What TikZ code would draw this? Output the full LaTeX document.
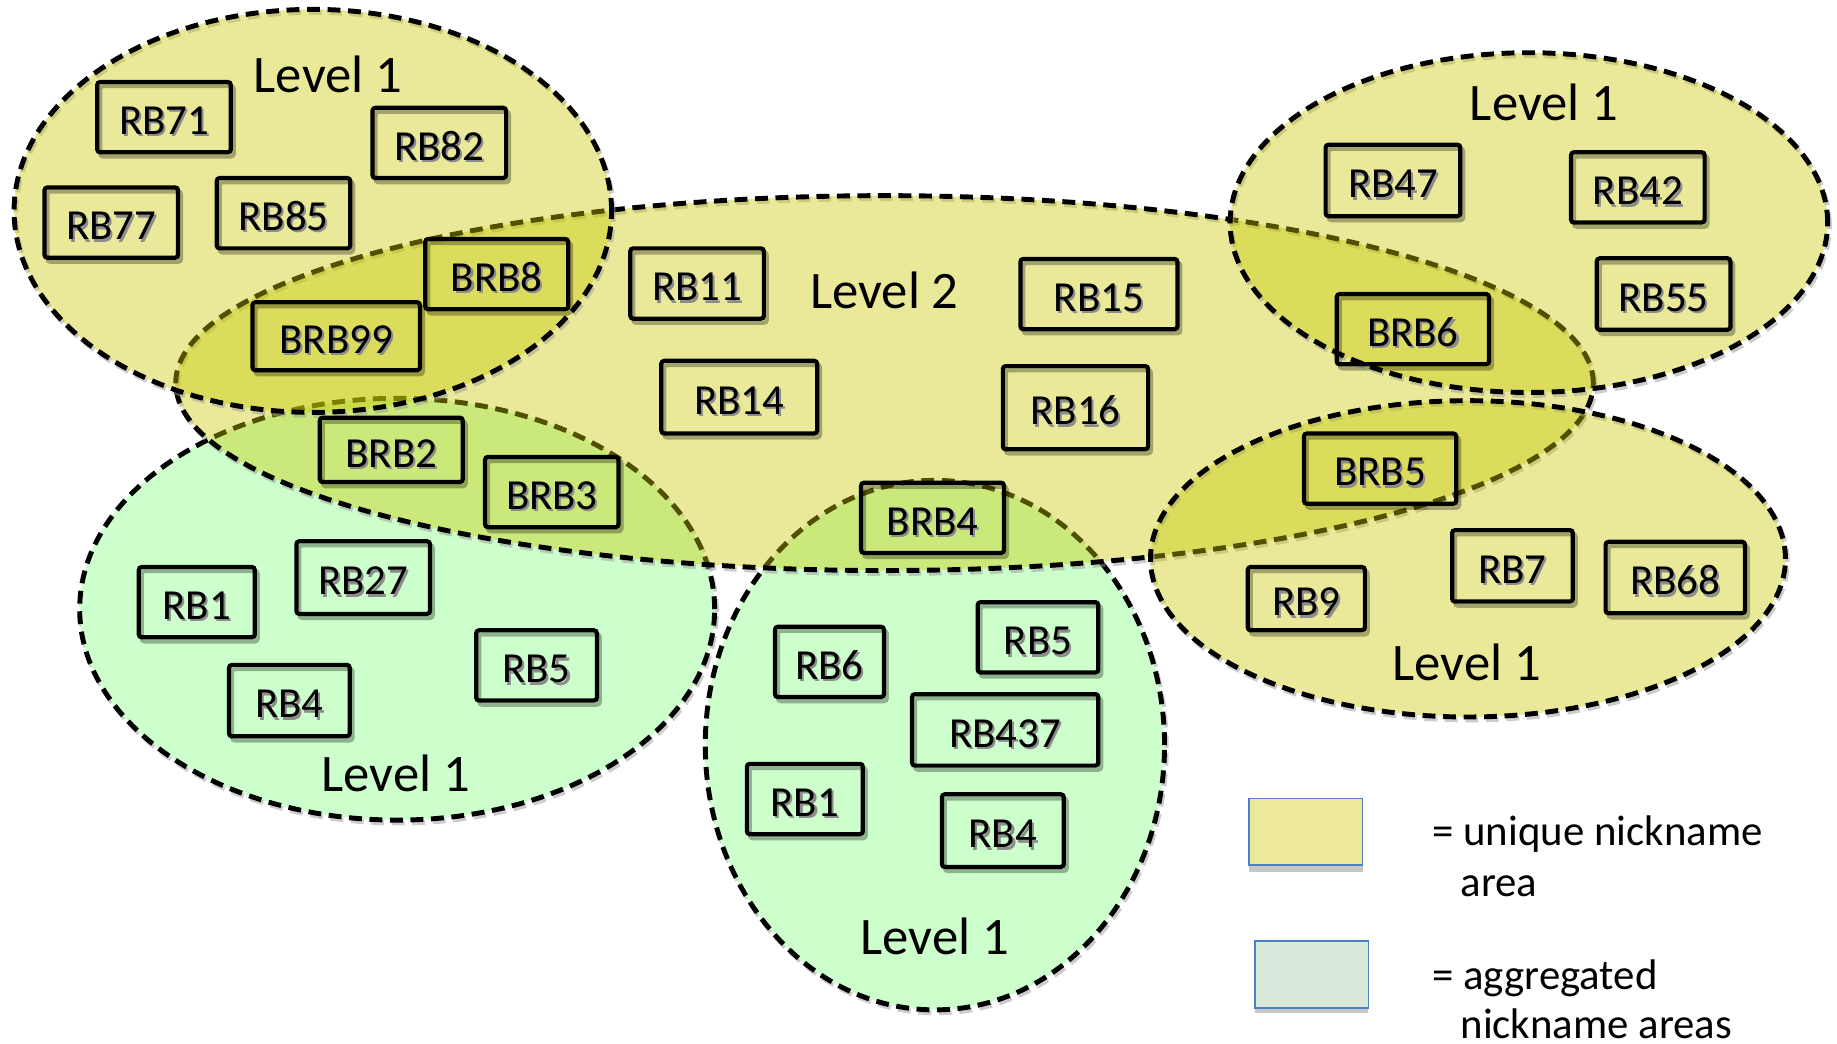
\documentclass[tikz,border=0pt]{standalone}
\usepackage{fontspec}
\setmainfont{Carlito}
\definecolor{areafill}{RGB}{200,200,0}
\definecolor{aggfill}{RGB}{204,255,204}
\definecolor{legblue}{RGB}{79,129,189}
\definecolor{legyellow}{RGB}{236,234,154}
\definecolor{leggreen}{RGB}{218,232,218}
% text with a soft offset shadow
\newcommand\shtext[1]{\makebox[0pt][l]{\kern0.1ex\raisebox{-0.12ex}{\color{black!45}#1}}#1}
\tikzset{
  zone/.style={draw=black, line width=0.42mm, dash pattern=on 1.1mm off 0.65mm,
    preaction={draw=black!40, opacity=0.5, line width=0.42mm, dash pattern=on 1.1mm off 0.65mm,
      transform canvas={shift={(0.15mm,-0.25mm)}}}},
  unique/.style={zone, fill=areafill, fill opacity=0.4},
  aggregated/.style={zone, fill=aggfill},
  rb/.style={draw=black, line width=0.36mm, inner sep=0pt, rounded corners=0.25mm,
    text height=2.95mm, text depth=0pt,
    font=\fontsize{10.4}{12}\selectfont,
    preaction={draw=black, opacity=0.3, line width=0.36mm, rounded corners=0.25mm,
      transform canvas={shift={(0.25mm,-0.35mm)}}}},
  lvl/.style={anchor=base, font=\fontsize{12.8}{15}\selectfont, inner sep=0pt},
  legkey/.style={draw=legblue, line width=0.15mm, minimum width=9.7mm, minimum height=5.7mm, inner sep=0pt},
  legtext/.style={anchor=base west, inner sep=0pt, font=\fontsize{10.4}{13}\selectfont},
}
\begin{document}
\begin{tikzpicture}[x=0.1mm, y=-0.1mm]
\useasboundingbox (0,0) rectangle (1568,891);

% aggregated (green) level-1 areas
\draw[aggregated] (339,520) ellipse [x radius=27.1mm, y radius=18mm];
\draw[aggregated] (798,636) ellipse [x radius=19.6mm, y radius=22.6mm];

% level-2 area
\draw[unique] (755,327) ellipse [x radius=60.5mm, y radius=16mm];

% unique-nickname level-1 areas
\draw[unique] (267,180) ellipse [x radius=25.5mm, y radius=17.2mm];
\draw[unique] (1305,190) ellipse [x radius=25.5mm, y radius=14.5mm];
\draw[unique] (1253,477) ellipse [x radius=27.1mm, y radius=13.5mm];

% area labels
\node[lvl] (lvlTL) at (280,79) {Level 1};
\node[lvl] (lvlTR) at (1318,103) {Level 1};
\node[lvl] (lvlTwo) at (755,263) {Level 2};
\node[lvl] (lvlBR) at (1252,581) {Level 1};
\node[lvl] (lvlBL) at (338,676) {Level 1};
\node[lvl] (lvlBM) at (798,815) {Level 1};

% RBridges, top-left area
\node[rb, minimum width=11.4mm, minimum height=6mm] (rb71) at (140,100) {\shtext{RB71}};
\node[rb, minimum width=11.4mm, minimum height=6mm] (rb82) at (375,122) {\shtext{RB82}};
\node[rb, minimum width=11.4mm, minimum height=6mm] (rb77) at (95,190) {\shtext{RB77}};
\node[rb, minimum width=11.4mm, minimum height=6mm] (rb85) at (242,182) {\shtext{RB85}};
\node[rb, minimum width=12.2mm, minimum height=6mm] (brb8) at (424,234) {\shtext{BRB8}};
\node[rb, minimum width=14.3mm, minimum height=5.8mm] (brb99) at (287,287) {\shtext{BRB99}};

% RBridges, level-2 area
\node[rb, minimum width=11.4mm, minimum height=6mm] (rb11) at (595,242) {\shtext{RB11}};
\node[rb, minimum width=13.4mm, minimum height=6mm] (rb15) at (938,251) {\shtext{RB15}};
\node[rb, minimum width=13.3mm, minimum height=6.2mm] (rb14) at (631,339) {\shtext{RB14}};
\node[rb, minimum width=12.4mm, minimum height=7.1mm] (rb16) at (918,348) {\shtext{RB16}};

% RBridges, top-right area
\node[rb, minimum width=11.5mm, minimum height=6.1mm] (rb47) at (1189,154) {\shtext{RB47}};
\node[rb, minimum width=11.4mm, minimum height=6mm] (rb42) at (1398,160) {\shtext{RB42}};
\node[rb, minimum width=11.4mm, minimum height=6.1mm] (rb55) at (1420,251) {\shtext{RB55}};
\node[rb, minimum width=13mm, minimum height=6mm] (brb6) at (1206,281) {\shtext{BRB6}};

% border RBridges
\node[rb, minimum width=12.2mm, minimum height=5.5mm] (brb2) at (334,384) {\shtext{BRB2}};
\node[rb, minimum width=11.4mm, minimum height=6mm] (brb3) at (471,420) {\shtext{BRB3}};
\node[rb, minimum width=12.2mm, minimum height=6mm] (brb4) at (796,442) {\shtext{BRB4}};
\node[rb, minimum width=13mm, minimum height=6mm] (brb5) at (1178,400) {\shtext{BRB5}};

% RBridges, bottom-right area
\node[rb, minimum width=10mm, minimum height=5.4mm] (rb9) at (1115,511) {\shtext{RB9}};
\node[rb, minimum width=10.3mm, minimum height=6.1mm] (rb7) at (1291,483) {\shtext{RB7}};
\node[rb, minimum width=11.9mm, minimum height=6.1mm] (rb68) at (1430,493) {\shtext{RB68}};

% RBridges, bottom-left area
\node[rb, minimum width=9.9mm, minimum height=6mm] (blrb1) at (168,514) {\shtext{RB1}};
\node[rb, minimum width=11.4mm, minimum height=6.2mm] (blrb27) at (310,493) {\shtext{RB27}};
\node[rb, minimum width=10.3mm, minimum height=6mm] (blrb5) at (458,568) {\shtext{RB5}};
\node[rb, minimum width=10.3mm, minimum height=6.1mm] (blrb4) at (247,598) {\shtext{RB4}};

% RBridges, bottom-middle area
\node[rb, minimum width=9.3mm, minimum height=6mm] (bmrb6) at (708,565) {\shtext{RB6}};
\node[rb, minimum width=10.3mm, minimum height=6mm] (bmrb5) at (886,544) {\shtext{RB5}};
\node[rb, minimum width=15.9mm, minimum height=6.1mm] (bmrb437) at (858,623) {\shtext{RB437}};
\node[rb, minimum width=9.9mm, minimum height=6mm] (bmrb1) at (687,682) {\shtext{RB1}};
\node[rb, minimum width=10.4mm, minimum height=6.2mm] (bmrb4) at (856,709) {\shtext{RB4}};

% legend
\fill[black!22] (1066,738) rectangle (1163,744);
\node[legkey, fill=legyellow] (keyU) at (1114.5,710) {};
\fill[black!22] (1071,859) rectangle (1168,865);
\node[legkey, fill=leggreen] (keyA) at (1119.5,832) {};
\node[legtext] (txtU1) at (1222,722) {= unique nickname};
\node[legtext] (txtU2) at (1246,765) {area};
\node[legtext] (txtA1) at (1222,845) {= aggregated};
\node[legtext] (txtA2) at (1246,886) {nickname areas};
\end{tikzpicture}
\end{document}
